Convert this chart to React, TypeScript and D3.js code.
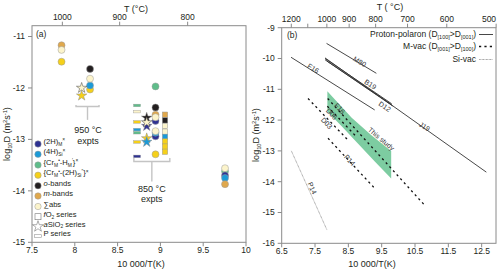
import React from 'react'
import * as d3 from 'd3'

const W = 500
const H = 271
const FONT = "'Liberation Sans', Arial, sans-serif"
const INK = '#231f20'
const FRAME = '#8a8a8a'

// colours of the defect species
const SPECIES: Record<string, string> = {
  h2: '#2e3192',
  h4: '#1b9ad7',
  crh: '#5fbd8a',
  cr2h: '#f5d01a',
  ob: '#231f20',
  mb: '#e0a84c',
  sum: '#fcf4cb',
}

// ---- panel (a): 10000/T (K), log10 D, species
const circlePoints = [
  { x: 7.845, y: -11.17, s: 'mb' },
  { x: 7.845, y: -11.26, s: 'sum' },
  { x: 7.845, y: -11.49, s: 'cr2h' },
  { x: 8.178, y: -12.03, s: 'cr2h' },
  { x: 8.178, y: -11.95, s: 'h4' },
  { x: 8.178, y: -11.82, s: 'sum' },
  { x: 8.178, y: -11.63, s: 'ob' },
  { x: 8.943, y: -11.97, s: 'crh' },
  { x: 8.943, y: -12.38, s: 'ob' },
  { x: 8.943, y: -12.52, s: 'mb' },
  { x: 8.943, y: -12.64, s: 'h2' },
  { x: 8.943, y: -12.57, s: 'sum' },
  { x: 8.943, y: -12.94, s: 'h2' },
  { x: 8.943, y: -12.87, s: 'h4' },
  { x: 8.943, y: -12.84, s: 'sum' },
  { x: 8.943, y: -13.29, s: 'cr2h' },
  { x: 9.755, y: -13.62, s: 'crh' },
  { x: 9.755, y: -13.56, s: 'sum' },
  { x: 9.755, y: -13.7, s: 'h2' },
  { x: 9.755, y: -13.75, s: 'h4' },
  { x: 9.755, y: -13.87, s: 'mb' },
]

const starPoints = [
  { x: 8.08, y: -12.0, s: 'sum' },
  { x: 8.08, y: -12.15, s: 'cr2h' },
  { x: 8.84, y: -12.58, s: 'ob' },
  { x: 8.84, y: -12.74, s: 'h2' },
  { x: 8.84, y: -12.67, s: 'sum' },
  { x: 8.84, y: -12.98, s: 'cr2h' },
  { x: 8.84, y: -13.05, s: 'h4' },
]

const barPoints = [
  { x: 8.727, y: -12.34, s: 'crh' },
  { x: 8.727, y: -12.46, s: 'sum' },
  { x: 8.727, y: -12.66, s: 'cr2h' },
  { x: 8.727, y: -12.81, s: 'h4' },
  { x: 8.727, y: -12.87, s: 'crh' },
  { x: 8.727, y: -13.05, s: 'cr2h' },
  { x: 8.727, y: -13.33, s: 'h2' },
]

const squarePoints = [
  { x: 9.054, y: -12.52, s: 'mb' },
  { x: 9.054, y: -12.63, s: 'ob' },
  { x: 9.054, y: -12.74, s: 'sum' },
  { x: 9.054, y: -12.85, s: 'sum' },
  { x: 9.054, y: -12.95, s: 'h4' },
  { x: 9.054, y: -13.04, s: 'cr2h' },
  { x: 9.054, y: -13.14, s: 'cr2h' },
  { x: 9.054, y: -13.24, s: 'cr2h' },
]

const xTicksA = [7.5, 8, 8.5, 9, 9.5, 10]
const yTicksA = [-15, -14, -13, -12, -11]
const tempTicksA = [1000, 900, 800]

// ---- panel (b): Arrhenius lines, endpoints in 10000/T and log10 D
const polaronLines = [
  { x: [7.846, 9.34], y: [-9.51, -10.48] },
  { x: [6.78, 9.29], y: [-9.96, -11.67] },
  { x: [7.8, 9.8], y: [-10.0, -11.47] },
  { x: [7.8, 9.8], y: [-10.04, -11.5] },
  { x: [7.85, 9.83], y: [-10.08, -11.54] },
  { x: [7.8, 12.64], y: [-9.98, -13.69] },
]
const mvacLines = [
  { x: [7.88, 10.82], y: [-11.3, -14.8] },
  { x: [7.87, 8.75], y: [-11.55, -12.55] },
  { x: [7.29, 8.49], y: [-11.3, -12.65] },
  { x: [7.89, 9.32], y: [-12.59, -14.25] },
]
const sivacLines = [{ x: [6.79, 7.86], y: [-13.0, -15.57] }]

const thisStudyUpper = [
  [7.87, -11.06], [8.2, -11.45], [8.6, -11.92], [9.2, -12.5], [9.785, -13.0],
]
const thisStudyLower = [
  [9.785, -13.9], [9.3, -13.35], [8.8, -12.78], [8.3, -12.2], [7.87, -11.72],
]

const lineLabels = [
  { t: 'M80', x: 8.84, y: -10.1, a: 31 },
  { t: 'F16', x: 7.445, y: -10.32, a: 32 },
  { t: 'B19', x: 9.16, y: -10.84, a: 34 },
  { t: 'D12', x: 9.59, y: -11.56, a: 34 },
  { t: 'J19', x: 10.79, y: -12.21, a: 32 },
  { t: 'F16', x: 8.24, y: -11.62, a: 47 },
  { t: 'D06', x: 8.0, y: -11.8, a: 47 },
  { t: 'D03', x: 7.85, y: -12.1, a: 47 },
  { t: 'This study', x: 9.49, y: -12.61, a: 40 },
  { t: 'P14', x: 8.54, y: -13.3, a: 47 },
  { t: 'P14', x: 7.415, y: -14.21, a: 66 },
]

const xTicksB = [6.5, 7.5, 8.5, 9.5, 10.5, 11.5, 12.5]
const yTicksB = [-16, -15, -14, -13, -12, -11, -10, -9]
const tempTicksB = [1200, 1100, 1000, 900, 800, 700, 600, 500]
const tempLabelsB = ['1200', '', '1000', '900', '800', '700', '600', '500']

const xA = d3.scaleLinear().domain([7.5, 10]).range([32, 246])
const yA = d3.scaleLinear().domain([-15, -10.79]).range([242.3, 25.7])
const xB = d3.scaleLinear().domain([6.5, 12.93]).range([281.7, 496])
const yB = d3.scaleLinear().domain([-16, -9]).range([243.3, 27.7])

const invT = (c: number) => 10000 / (c + 273.15)

type Part = [string, string?]
const rich = (parts: Part[], fs: number) => {
  let cur = 0
  return parts.map(([t, k], i) => {
    const target = k === 'b' ? fs * 0.25 : k === 'p' ? -fs * 0.35 : 0
    const dy = target - cur
    cur = target
    const small = k === 'b' || k === 'p'
    return (
      <tspan key={i} dy={dy} fontSize={small ? fs * 0.64 : fs} fontStyle={k === 'i' ? 'italic' : undefined}>
        {t}
      </tspan>
    )
  })
}

const legendA: { kind: string; s: string; parts: Part[] }[] = [
  { kind: 'c', s: 'h2', parts: [['(2H)'], ['M', 'b'], ['×', 'p']] },
  { kind: 'c', s: 'h4', parts: [['(4H)'], ['Si', 'b'], ['×', 'p']] },
  { kind: 'c', s: 'crh', parts: [['{Cr'], ['M', 'b'], ['•', 'p'], ['-H'], ['M', 'b'], ['′', 'p'], ['}'], ['×', 'p']] },
  { kind: 'c', s: 'cr2h', parts: [['{Cr'], ['M', 'b'], ['•', 'p'], ['-(2H)'], ['Si', 'b'], ['′′', 'p'], ['}'], ['×', 'p']] },
  { kind: 'c', s: 'ob', parts: [['o', 'i'], ['-bands']] },
  { kind: 'c', s: 'mb', parts: [['m', 'i'], ['-bands']] },
  { kind: 'c', s: 'sum', parts: [['∑abs']] },
  { kind: 'sq', s: '', parts: [['f', 'i'], ['O'], ['2', 'b'], [' series']] },
  { kind: 'st', s: '', parts: [['a', 'i'], ['SiO'], ['2', 'b'], [' series']] },
  { kind: 'bar', s: '', parts: [['P series']] },
]
const legendAY = [144, 154.3, 165, 175.2, 185.7, 196, 206.5, 216.7, 226.5, 236]

const star = (size: number) => d3.symbol(d3.symbolStar, size)()!

const Ticks = ({ scale, vals, labels, y0, dir, fs, maxX = 1e9 }: any) => (
  <g>
    {vals.map((v: number, i: number) => (
      <g key={i} transform={`translate(${scale(v)},${y0})`}>
        <line y2={dir * 4} stroke={FRAME} />
        <text x={Math.min(0, maxX - scale(v))} y={dir > 0 ? 11 : -5.5} textAnchor="middle" fontSize={fs}>
          {labels[i]}
        </text>
      </g>
    ))}
  </g>
)

const YTicks = ({ scale, vals, x0 }: any) => (
  <g>
    {vals.map((v: number) => (
      <g key={v} transform={`translate(${x0},${scale(v)})`}>
        <line x2={-4} stroke={FRAME} />
        <text x={-7} dy="0.35em" textAnchor="end" fontSize={8.5}>
          {v}
        </text>
      </g>
    ))}
  </g>
)

const YLabel = ({ x, y }: { x: number; y: number }) => (
  <text transform={`translate(${x},${y}) rotate(-90)`} textAnchor="middle" fontSize={9}>
    {rich([['log'], ['10', 'b'], ['D (m'], ['2', 'p'], ['s'], ['-1', 'p'], [')']], 9)}
  </text>
)

const PanelA = () => {
  const [x0, x1] = xA.range()
  const [y1, y0] = yA.range()
  const bracket = (xl: number, xr: number, yb: number, ytip: number, ybot: number) => {
    const xm = (xl + xr) / 2
    return (
      <g stroke="#c4c4c4" strokeWidth={1.4} fill="none">
        <path d={`M${xA(xl)},${yA(ytip)}V${yA(yb)}H${xA(xr)}V${yA(ytip)}`} />
        <line x1={xA(xm)} x2={xA(xm)} y1={yA(yb)} y2={yA(ybot)} />
      </g>
    )
  }
  return (
    <g>
      <rect x={x0} y={y0} width={x1 - x0} height={y1 - y0} fill="none" stroke={FRAME} />
      <Ticks scale={xA} vals={xTicksA} labels={xTicksA.map(String)} y0={y1} dir={1} fs={8.5} />
      <Ticks scale={(c: number) => xA(invT(c))} vals={tempTicksA} labels={tempTicksA.map(String)} y0={y0} dir={-1} fs={8.5} />
      <YTicks scale={yA} vals={yTicksA} x0={x0} />
      <text x={136} y={12} textAnchor="middle" fontSize={9}>T (°C)</text>
      <text x={141} y={267} textAnchor="middle" fontSize={9}>10 000/T(K)</text>
      <YLabel x={10} y={134} />
      <text x={36} y={37} fontSize={8.5}>(a)</text>

      {bracket(8.014, 8.283, -12.36, -12.33, -12.62)}
      <text x={xA(8.154)} y={yA(-12.88)} textAnchor="middle" fontSize={9}>950 °C</text>
      <text x={xA(8.154)} y={yA(-13.08)} textAnchor="middle" fontSize={9}>expts</text>
      {bracket(8.69, 9.11, -13.43, -13.36, -13.82)}
      <text x={xA(8.9)} y={yA(-14.03)} textAnchor="middle" fontSize={9}>850 °C</text>
      <text x={xA(8.9)} y={yA(-14.22)} textAnchor="middle" fontSize={9}>expts</text>

      {barPoints.map((d, i) => (
        <rect key={i} x={xA(d.x) - 3.5} y={yA(d.y) - 1.3} width={7} height={2.6} fill={SPECIES[d.s]} stroke="#9a9a9a" strokeWidth={0.4} />
      ))}
      {squarePoints.map((d, i) => (
        <rect key={i} x={xA(d.x) - 2.7} y={yA(d.y) - 2.7} width={5.4} height={5.4} fill={SPECIES[d.s]} stroke="#9a9a9a" strokeWidth={0.5} />
      ))}
      {circlePoints.map((d, i) => (
        <circle key={i} cx={xA(d.x)} cy={yA(d.y)} r={3.5} fill={SPECIES[d.s]} stroke="#9a9a9a" strokeWidth={0.5} />
      ))}
      {starPoints.map((d, i) => (
        <path key={i} d={star(34)} transform={`translate(${xA(d.x)},${yA(d.y)})`} fill={SPECIES[d.s]} stroke={d.s === 'sum' ? '#444' : '#8a8a8a'} strokeWidth={0.5} />
      ))}

      {legendA.map((e, i) => {
        const y = legendAY[i]
        return (
          <g key={i}>
            {e.kind === 'c' && <circle cx={38} cy={y} r={3.2} fill={SPECIES[e.s]} stroke="#9a9a9a" strokeWidth={0.5} />}
            {e.kind === 'sq' && <rect x={35} y={y - 3} width={6} height={6} fill="#fff" stroke="#777" strokeWidth={0.6} />}
            {e.kind === 'st' && <path d={star(38)} transform={`translate(${38},${y})`} fill="#fff" stroke="#777" strokeWidth={0.6} />}
            {e.kind === 'bar' && <rect x={34.5} y={y - 1.3} width={7} height={2.6} fill="#fff" stroke="#999" strokeWidth={0.6} />}
            <text x={43.5} y={y} dy="0.33em" fontSize={7.6}>
              {rich(e.parts, 7.6)}
            </text>
          </g>
        )
      })}
    </g>
  )
}

const PanelB = () => {
  const [x0, x1] = xB.range()
  const [y1, y0] = yB.range()
  const seg = (l: { x: number[]; y: number[] }) => `M${xB(l.x[0])},${yB(l.y[0])}L${xB(l.x[1])},${yB(l.y[1])}`
  const band = d3
    .line<number[]>()
    .x((d) => xB(d[0]))
    .y((d) => yB(d[1]))([...thisStudyUpper, ...thisStudyLower])!
  const sub = (s: string) => (
    <tspan dy={2} fontSize={5.5}>
      {s}
    </tspan>
  )
  return (
    <g>
      <rect x={x0} y={y0} width={x1 - x0} height={y1 - y0} fill="none" stroke={FRAME} />
      <Ticks scale={xB} vals={xTicksB} labels={xTicksB.map(String)} y0={y1} dir={1} fs={8.5} />
      <Ticks scale={(c: number) => xB(invT(c))} vals={tempTicksB} labels={tempLabelsB} y0={y0} dir={-1} fs={8.5} maxX={489} />
      <YTicks scale={yB} vals={yTicksB} x0={x0} />
      <text x={390} y={10} textAnchor="middle" fontSize={9}>T ( °C)</text>
      <text x={372} y={267} textAnchor="middle" fontSize={9}>10 000/T(K)</text>
      <YLabel x={259} y={135} />
      <text x={287} y={38} fontSize={8.5}>(b)</text>

      <path d={band + 'Z'} fill="#66c391" fillOpacity={0.85} />
      {polaronLines.map((l, i) => (
        <path key={i} d={seg(l)} stroke="#333" strokeWidth={0.9} fill="none" />
      ))}
      {mvacLines.map((l, i) => (
        <path key={i} d={seg(l)} stroke="#111" strokeWidth={1.3} strokeDasharray="2.2,3.2" fill="none" />
      ))}
      {sivacLines.map((l, i) => (
        <path key={i} d={seg(l)} stroke="#8c8c8c" strokeWidth={0.9} strokeDasharray="0.8,0.6" fill="none" />
      ))}
      {lineLabels.map((d, i) => (
        <text key={i} transform={`translate(${xB(d.x)},${yB(d.y)}) rotate(${d.a})`} textAnchor="middle" dy="0.35em" fontSize={7} fill="#333">
          {d.t}
        </text>
      ))}

      <g fontSize={8.5}>
        <text x={476} y={37} textAnchor="end">
          Proton-polaron (D{sub('[100]')}
          <tspan dy={-2}>{'>'}D</tspan>
          {sub('[001]')}
          <tspan dy={-2}>)</tspan>
        </text>
        <text x={476} y={49} textAnchor="end">
          M-vac (D{sub('[001]')}
          <tspan dy={-2}>{'>'}D</tspan>
          {sub('[100]')}
          <tspan dy={-2}>)</tspan>
        </text>
        <text x={476} y={62} textAnchor="end">Si-vac</text>
      </g>
      <line x1={479} x2={493} y1={34.5} y2={34.5} stroke="#333" strokeWidth={0.9} />
      <line x1={479} x2={493} y1={46.5} y2={46.5} stroke="#111" strokeWidth={1.3} strokeDasharray="2.2,3.2" />
      <line x1={479} x2={493} y1={59.5} y2={59.5} stroke="#8c8c8c" strokeWidth={0.9} strokeDasharray="0.8,0.6" />
    </g>
  )
}

export default function App() {
  return (
    <svg width={W} height={H} style={{ position: 'absolute', left: 0, top: 0, background: '#fff' }} fontFamily={FONT} fill={INK}>
      <PanelA />
      <PanelB />
    </svg>
  )
}
